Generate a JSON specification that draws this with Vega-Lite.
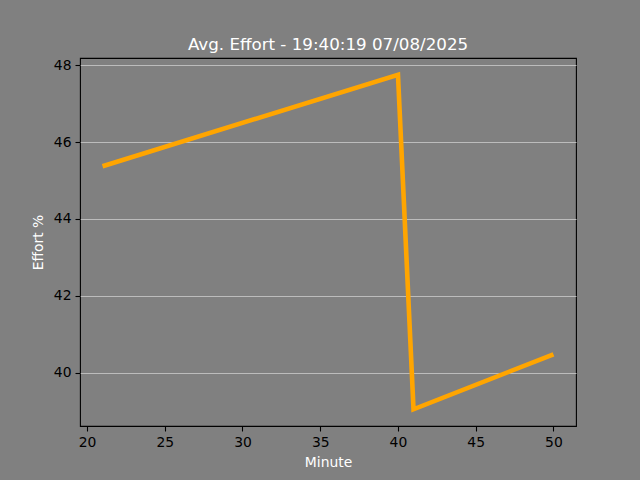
{
  "$schema": "https://vega.github.io/schema/vega-lite/v6.json",
  "width": 496,
  "height": 368,
  "autosize": "none",
  "padding": {"left": 80, "top": 58, "right": 64, "bottom": 54},
  "background": "#808080",
  "title": {
    "text": "Avg. Effort - 19:40:19 07/08/2025",
    "color": "white",
    "font": "DejaVu Sans",
    "fontSize": 16.7,
    "fontWeight": "normal",
    "anchor": "middle",
    "offset": 4
  },
  "config": {
    "view": {"stroke": "black", "strokeWidth": 1.1, "fill": "#808080"},
    "axis": {
      "labelFont": "DejaVu Sans",
      "labelFontSize": 13.9,
      "labelColor": "black",
      "titleFont": "DejaVu Sans",
      "titleFontSize": 13.9,
      "titleColor": "white",
      "titleFontWeight": "normal",
      "tickColor": "black",
      "tickSize": 5,
      "tickWidth": 1.1,
      "labelPadding": 4,
      "domain": false
    }
  },
  "data": {
    "values": [
      {"minute": 21, "effort": 45.37},
      {"minute": 40, "effort": 47.75},
      {"minute": 41, "effort": 39.05},
      {"minute": 50, "effort": 40.48}
    ]
  },
  "mark": {"type": "line", "color": "#FFA500", "strokeWidth": 4.6, "strokeCap": "butt", "clip": true},
  "encoding": {
    "x": {
      "field": "minute",
      "type": "quantitative",
      "title": "Minute",
      "scale": {"domain": [19.55, 51.45], "nice": false, "zero": false},
      "axis": {"values": [20, 25, 30, 35, 40, 45, 50], "grid": false, "titlePadding": 7}
    },
    "y": {
      "field": "effort",
      "type": "quantitative",
      "title": "Effort %",
      "scale": {"domain": [38.615, 48.185], "nice": false, "zero": false},
      "axis": {"values": [40, 42, 44, 46, 48], "grid": true, "gridColor": "#bcbcbc", "gridWidth": 1, "titlePadding": 8}
    }
  }
}
